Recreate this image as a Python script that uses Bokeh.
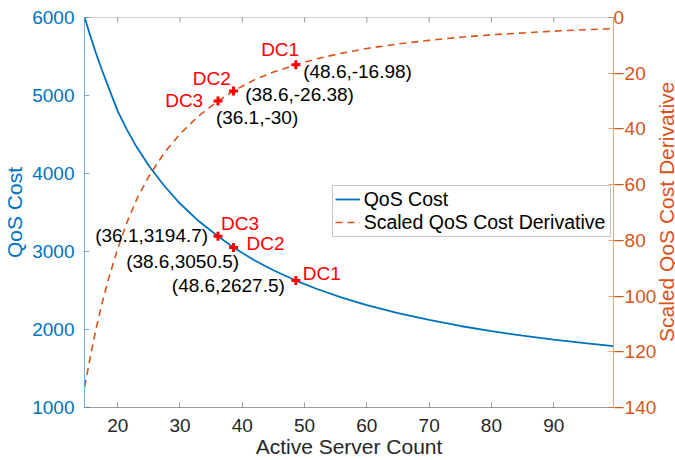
import math
from bokeh.plotting import figure
from bokeh.layouts import row
from bokeh.models import Range1d, LinearAxis, FixedTicker, ColumnDataSource, Span, Div
from bokeh.core.properties import value, field
from bokeh.embed import file_html
from bokeh.resources import INLINE

# ---------------- data ----------------
server_count = [14.7, 15.5, 16.5, 17.5, 18.5, 20, 21.5, 23, 25, 27.5, 30, 33, 36.1, 38.6,
                42, 45, 48.6, 52, 56, 60, 65, 70, 75, 80, 85, 90, 95, 99.6]
qos_cost = [6000, 5790, 5545, 5320, 5110, 4800, 4560, 4345, 4100, 3840, 3615, 3390, 3194.7,
            3050.5, 2885, 2759, 2627.5, 2519, 2409, 2313, 2210, 2122, 2045, 1979, 1921,
            1870, 1824, 1786]
scaled_derivative = [-132.5, -123, -112, -102.5, -94, -83, -73.5, -65.5, -57, -48.5, -41.8,
                     -35.3, -30, -26.38, -22.3, -19.6, -16.98, -14.8, -12.8, -11.1, -9.5,
                     -8.2, -7.1, -6.2, -5.55, -4.9, -4.4, -4.0]

dc_names = ["DC1", "DC2", "DC3"]
dc_servers = [48.6, 38.6, 36.1]
dc_cost = [2627.5, 3050.5, 3194.7]
dc_derivative = [-16.98, -26.38, -30]

x_ticks = [20, 30, 40, 50, 60, 70, 80, 90]
cost_ticks = [1000, 2000, 3000, 4000, 5000, 6000]
deriv_ticks = [-140, -120, -100, -80, -60, -40, -20, 0]

x_title = "Active Server Count"
cost_title = "QoS Cost"
deriv_title = "Scaled QoS Cost Derivative"

# ---------------- styles ----------------
BLUE = "#0072BD"
ORANGE = "#D95319"
RED = "#FF0000"
DARK = "#262626"
FONT = "Liberation Sans"

p = figure(frame_width=529, frame_height=390, output_backend="svg", toolbar_location=None,
           x_range=Range1d(14.67, 99.6), y_range=Range1d(1000, 6000),
           min_border_left=83, min_border_right=46, min_border_top=17, min_border_bottom=53)
p.extra_y_ranges = {"deriv": Range1d(-140, 0)}
p.xgrid.visible = False
p.ygrid.visible = False
p.outline_line_color = None
p.background_fill_color = "white"


def style_axis(ax, color, alpha, label_color):
    ax.axis_line_color = color
    ax.axis_line_alpha = alpha
    ax.major_tick_line_color = color
    ax.major_tick_line_alpha = alpha
    ax.major_tick_in = 5
    ax.major_tick_out = 0
    ax.minor_tick_line_color = None
    ax.major_label_text_font = FONT
    ax.major_label_text_font_size = "19px"
    ax.major_label_text_color = label_color
    ax.axis_label_text_font = FONT
    ax.axis_label_text_font_size = "21px"
    ax.axis_label_text_font_style = "normal"
    ax.axis_label_text_color = label_color


xa = p.xaxis[0]
xa.ticker = FixedTicker(ticks=x_ticks)
style_axis(xa, DARK, 0.45, DARK)
xa.major_label_standoff = 11
xa.axis_label = x_title
xa.axis_label_standoff = 0

ya = p.yaxis[0]
ya.ticker = FixedTicker(ticks=cost_ticks)
style_axis(ya, BLUE, 0.55, BLUE)
ya.major_label_standoff = 10
ya.axis_label = cost_title
ya.axis_label_standoff = 3

ra = LinearAxis(y_range_name="deriv", ticker=FixedTicker(ticks=deriv_ticks))
style_axis(ra, ORANGE, 0.55, ORANGE)
ra.major_label_standoff = 0
p.add_layout(ra, "right")

# top box edge with inward ticks
p.add_layout(Span(location=cost_ticks[-1], dimension="width", line_color=DARK,
                  line_alpha=0.45, line_width=1))
p.scatter(x_ticks, [cost_ticks[-1]] * len(x_ticks), marker="dash", angle=math.pi / 2,
          size=10, line_color=DARK, line_alpha=0.45, line_width=1)

# ---------------- curves ----------------
p.line(server_count, qos_cost, line_color=BLUE, line_width=1.8, legend_label="QoS Cost")
p.line(server_count, scaled_derivative, y_range_name="deriv", line_color=ORANGE,
       line_width=1.6, line_dash="7 5", legend_label="Scaled QoS Cost Derivative")

# ---------------- data centre markers ----------------
p.scatter(dc_servers, dc_cost, marker="cross", size=9, line_width=3, line_color=RED)
p.scatter(dc_servers, dc_derivative, y_range_name="deriv", marker="cross", size=9,
          line_width=3, line_color=RED)


def coord_text(xs, ys):
    return ["({:g},{:g})".format(a, b) for a, b in zip(xs, ys)]


def add_texts(xs, ys, texts, dx, dy, align, color, yr="default"):
    src = ColumnDataSource(dict(x=xs, y=ys, text=texts, dx=dx, dy=[d - 7 for d in dy]))
    p.text(x="x", y="y", text="text", source=src, x_offset=field("dx"), y_offset=field("dy"),
           text_align=align, text_baseline="alphabetic", text_font=value(FONT),
           text_font_size=value("19px"), text_color=color, y_range_name=yr)


# QoS cost curve annotations (order DC1, DC2, DC3)
add_texts(dc_servers, dc_cost, dc_names, [7, 13, 3], [-0.4, 3.3, -6.1], "left", RED)
add_texts(dc_servers, dc_cost, coord_text(dc_servers, dc_cost),
          [-11, 5.6, -9.8], [11.9, 20.9, 6.2], "right", "black")
# derivative curve annotations
add_texts(dc_servers, dc_derivative, dc_names, [3.3, -2.7, -14.8], [-8.6, -5.8, 6.4],
          "right", RED, "deriv")
add_texts(dc_servers, dc_derivative, coord_text(dc_servers, dc_derivative),
          [7.3, 11.6, -2.1], [13.7, 10.9, 23.1], "left", "black", "deriv")

# ---------------- legend ----------------
lg = p.legend[0]
lg.location = (247.7, 170.3)
lg.label_text_font = FONT
lg.label_text_font_size = "19.5px"
lg.label_text_color = "black"
lg.border_line_color = "#8c8c8c"
lg.border_line_width = 1
lg.background_fill_alpha = 1
lg.glyph_width = 25
lg.glyph_height = 20
lg.label_height = 20
lg.label_width = 244
lg.label_standoff = 4
lg.padding = 2
lg.spacing = 0
lg.margin = 0

# right axis title (reads bottom to top, like the MATLAB yyaxis right label)
title_html = (
    '<div style="margin-top:17px;height:390px;width:16px;'
    'writing-mode:vertical-rl;transform:rotate(180deg);text-align:center;'
    'font-family:\'Liberation Sans\';font-size:21px;line-height:16px;color:%s;'
    'white-space:nowrap;">%s</div>' % (ORANGE, deriv_title)
)
right_title = Div(text=title_html, width=17, height=460, margin=0)

layout = row(p, right_title, spacing=0)
open("out.html", "w").write(file_html(layout, INLINE))
